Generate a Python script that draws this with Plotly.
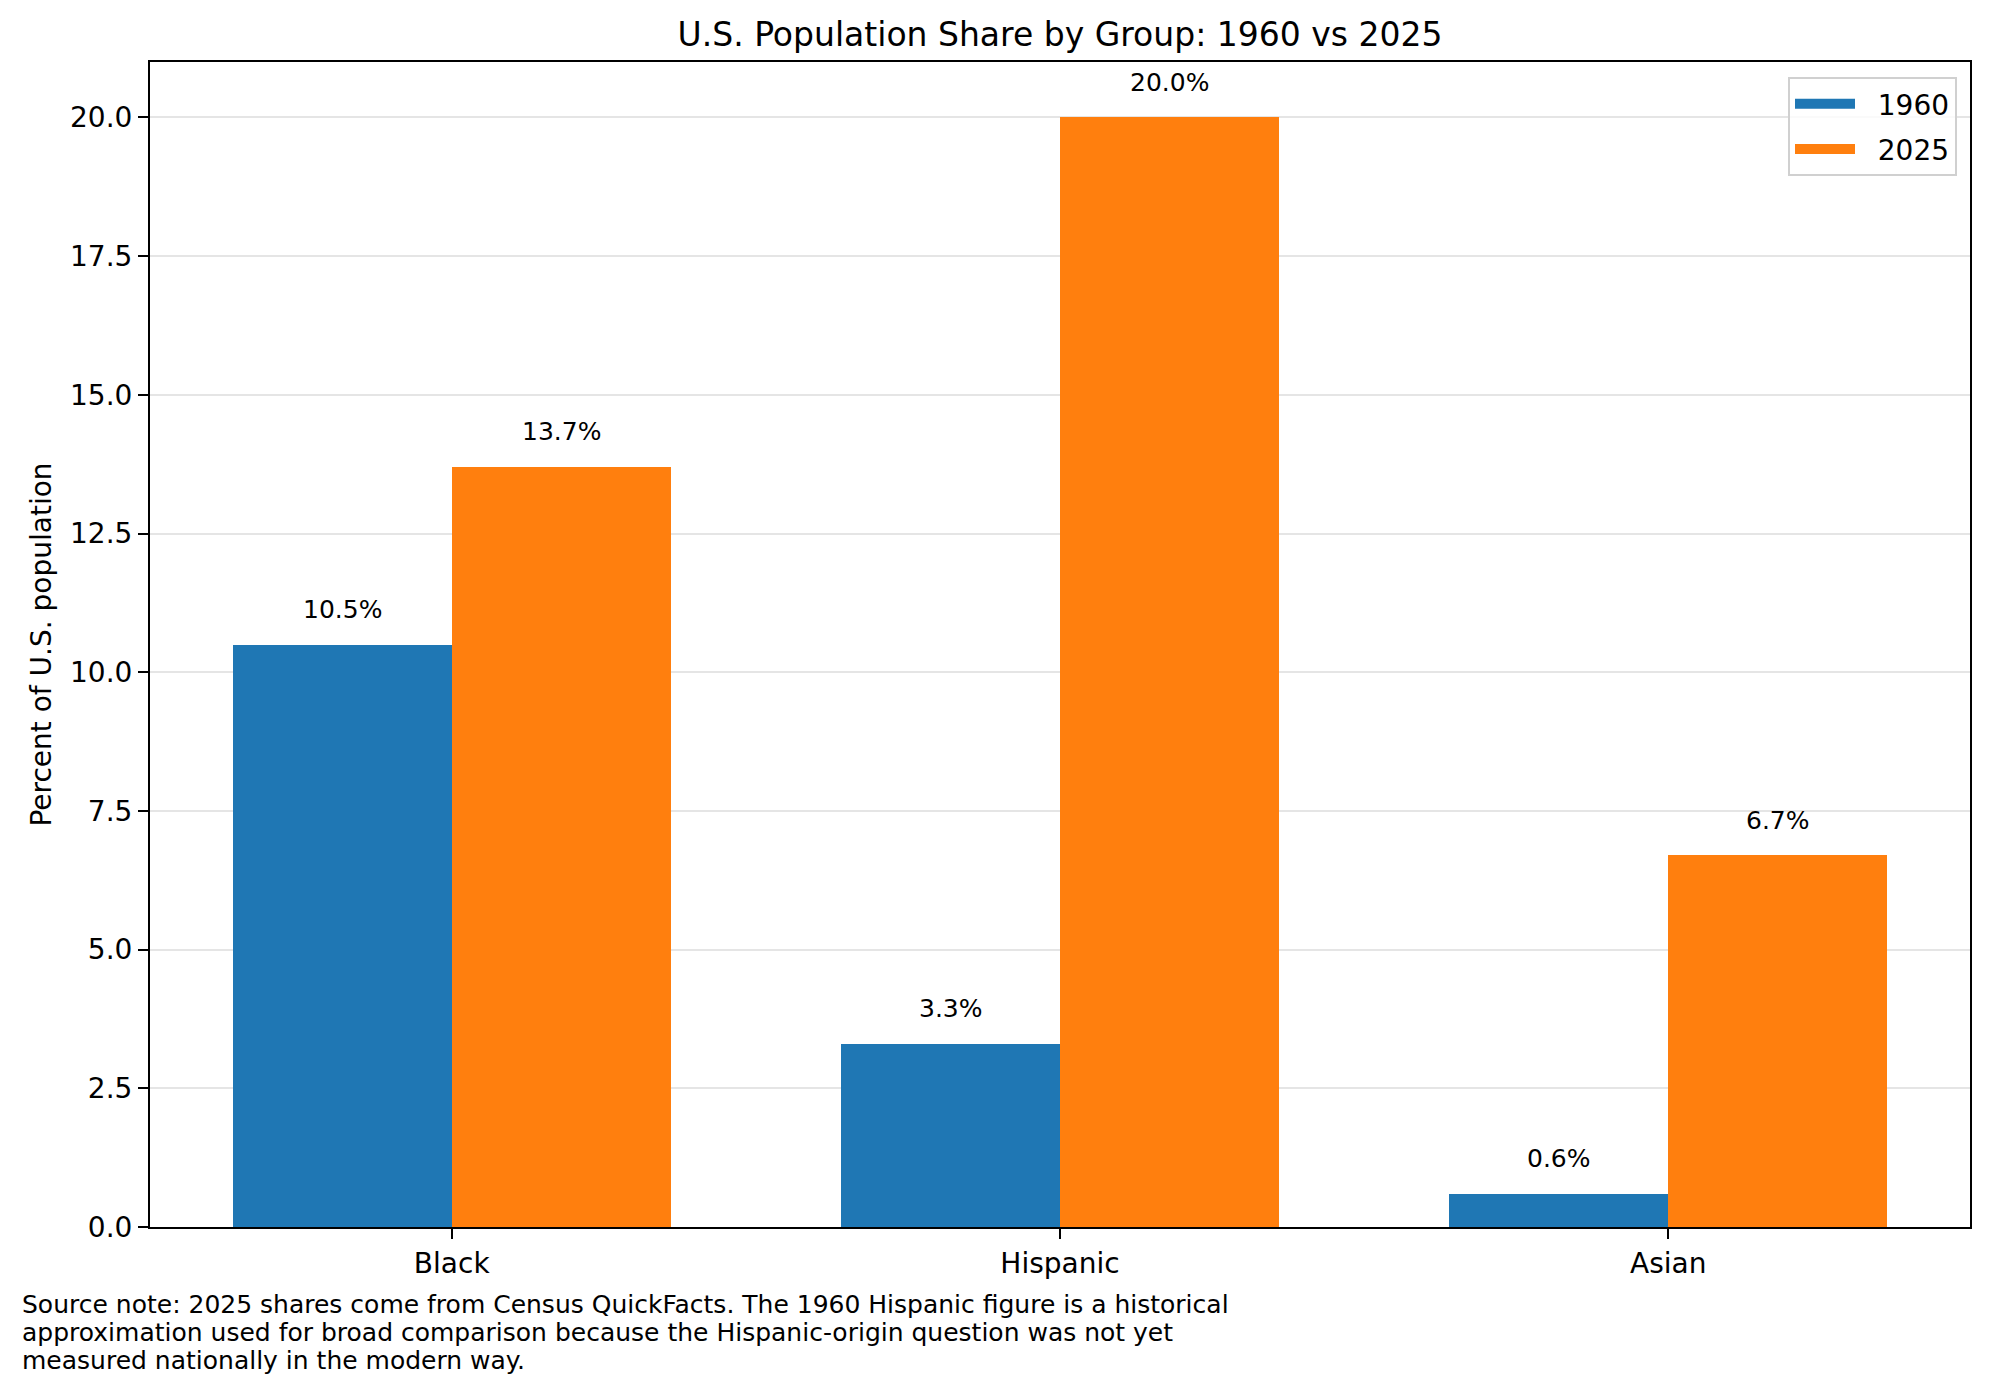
import plotly.graph_objects as go
import numpy as np

groups = ["Black", "Hispanic", "Asian"]
years = ["1960", "2025"]
share_1960 = [10.5, 3.3, 0.6]
share_2025 = [13.7, 20.0, 6.7]
colors = ["#1f77b4", "#ff7f0e"]
y_ticks = [0.0, 2.5, 5.0, 7.5, 10.0, 12.5, 15.0, 17.5, 20.0]
footnote_lines = [
    "Source note: 2025 shares come from Census QuickFacts. The 1960 Hispanic figure is a historical",
    "approximation used for broad comparison because the Hispanic-origin question was not yet",
    "measured nationally in the modern way.",
]

W, H = 1989, 1394
ML, MR, MT, MB = 150, 19, 62, 167
FONT = "DejaVu Sans"
bw = 0.36
xpos = np.arange(len(groups))

fig = go.Figure()
series = [share_1960, share_2025]
offsets = [-bw, 0.0]
for name, vals, col, off in zip(years, series, colors, offsets):
    fig.add_trace(go.Bar(
        x=xpos, y=vals, name=name, width=bw, offset=off, legendgroup=name,
        showlegend=False,
        marker=dict(color=col, line=dict(width=0)),
    ))
    # legend patch (no data drawn)
    fig.add_trace(go.Scatter(
        x=[None], y=[None], mode="lines", name="\u00a0\u00a0" + name, legendgroup=name,
        line=dict(color=col, width=20), hoverinfo="skip",
    ))
    for xi, v in zip(xpos, vals):
        fig.add_annotation(
            x=xi + off + bw / 2, y=v, xref="x", yref="y",
            text=f"{v:.1f}%", showarrow=False, yanchor="middle", yshift=35,
            font=dict(family=FONT, size=25, color="#000000"),
        )

for i, line in enumerate(footnote_lines):
    fig.add_annotation(
        x=-(ML - 20) / (W - ML - MR), xref="paper", xanchor="left",
        y=0, yref="paper", yanchor="middle", yshift=-77 - 28 * i,
        text=line, showarrow=False, align="left",
        font=dict(family=FONT, size=25, color="#000000"),
    )

fig.update_layout(
    width=W, height=H,
    margin=dict(l=ML, r=MR, t=MT, b=MB, pad=0),
    paper_bgcolor="white", plot_bgcolor="white",
    font=dict(family=FONT, size=28, color="#000000"),
    title=dict(text="U.S. Population Share by Group: 1960 vs 2025",
               x=(ML + (W - ML - MR) / 2) / W, xanchor="center",
               y=1 - 34 / H, yanchor="middle",
               font=dict(family=FONT, size=33, color="#000000")),
    bargap=0, bargroupgap=0,
    showlegend=True,
    legend=dict(x=1 - 13 / (W - ML - MR), xanchor="right", y=1 - 15 / (H - MT - MB), yanchor="top",
                bgcolor="rgba(255,255,255,0.8)", bordercolor="#d0d0d0", borderwidth=2,
                font=dict(family=FONT, size=28, color="#000000"),
                itemwidth=60, tracegroupgap=6),
)
fig.update_xaxes(
    range=[-0.496, 2.496], tickmode="array", tickvals=xpos, ticktext=groups,
    showgrid=False, zeroline=False, showline=True, linecolor="#000000", linewidth=2,
    mirror=True, ticks="outside", ticklen=10, tickwidth=2, tickcolor="#000000",
    tickfont=dict(family=FONT, size=28, color="#000000"),
)
fig.update_yaxes(
    range=[0, 21], tickmode="array", tickvals=y_ticks, ticktext=[f"{t:.1f}" for t in y_ticks],
    showgrid=True, gridcolor="#e5e5e5", gridwidth=1.5, zeroline=False,
    showline=True, linecolor="#000000", linewidth=2, mirror=True,
    ticks="outside", ticklen=10, tickwidth=2, tickcolor="#000000",
    tickfont=dict(family=FONT, size=28, color="#000000"),
    title=dict(text="Percent of U.S. population", standoff=10,
               font=dict(family=FONT, size=28, color="#000000")),
)

fig.write_html("out.html", config={"displayModeBar": False},
               post_script="document.body.style.margin='0px';")
